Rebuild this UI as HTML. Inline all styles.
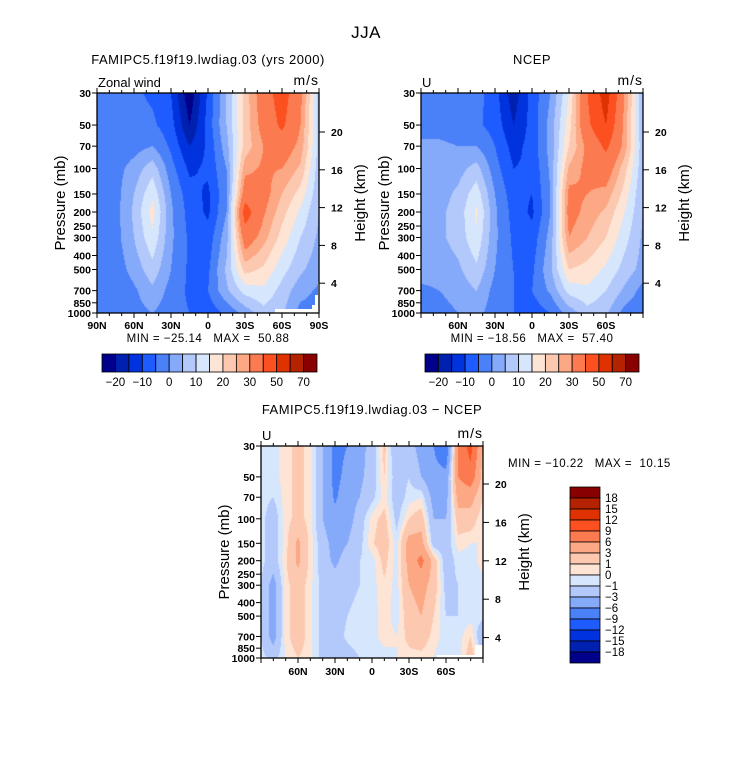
<!DOCTYPE html>
<html><head><meta charset="utf-8">
<style>
body{margin:0;background:#fff;width:733px;height:760px;overflow:hidden;position:relative;font-family:"Liberation Sans",sans-serif;}
canvas{position:absolute;}
svg{position:absolute;left:0;top:0;}
text{font-family:"Liberation Sans",sans-serif;fill:#000;white-space:pre;}
</style></head>
<body>
<canvas id="cL"></canvas>
<canvas id="cR"></canvas>
<canvas id="cD"></canvas>
<svg id="ov" width="733" height="760"></svg>
<script>
// ---- data ----
const pressures=[30,50,70,100,150,200,300,500,700,1000];
const latsTop=[90,75,60,45,30,15,0,-15,-30,-45,-60,-75,-90];
const latsDiff=[90,80,70,60,50,40,30,20,10,0,-10,-20,-30,-40,-50,-60,-70,-80,-90];
const topLevels=[-20,-15,-10,-5,0,5,10,15,20,25,30,40,50,60,70];
const diffLevels=[-18,-15,-12,-9,-6,-3,-1,0,1,3,6,9,12,15,18];
const topLabels=["-20","-10","0","10","20","30","50","70"];
const diffLabels=["-18","-15","-12","-9","-6","-3","-1","0","1","3","6","9","12","15","18"];
const pressureTicks=[30,50,70,100,150,200,250,300,400,500,700,850,1000];
const heightTicks=[4,8,12,16,20];
const latTicksFull=[[90,"90N"],[60,"60N"],[30,"30N"],[0,"0"],[-30,"30S"],[-60,"60S"],[-90,"90S"]];
const latTicksShort=[[60,"60N"],[30,"30N"],[0,"0"],[-30,"30S"],[-60,"60S"]];
const colors=["#00008a","#0020b0","#0033dd","#1f5cff","#4a80f8","#86aafa","#b3c8fb","#d6e6fc","#fde4d4","#fcc8b0","#fca884","#fc7a50","#fc5020","#e03200","#b42200","#880000"];
const modelU=[
[-2,-3,-4,-6,-10,-24,-9,5,22,35,45,32,8],
[-2,-3,-3,-4,-8,-20,-8,5,22,33,42,30,8],
[-2,-3,-2,0,-6,-15,-9,3,22,30,35,28,8],
[-3,-2,2,8,-3,-11,-9,0,28,31,30,24,7],
[-4,-2,5,14,0,-8,-11,-1,35,33,25,18,6],
[-4,-2,6,17,1,-7,-11,0,45,31,22,14,5],
[-4,-2,5,14,1,-6,-8,3,35,27,18,10,4],
[-2,-3,2,8,0,-6,-6,6,22,19,12,6,2],
[-3,-4,-1,4,-2,-6,-5,4,12,14,8,2,-1],
[-3,-4,-2,0,-3,-5,-8,-4,2,8,6,-2,-2]];
const ncepU=[
[-3,-3,-3,-3,-8,-18,-8,0,15,40,55,30,5],
[-2,-2,-3,-4,-7,-15,-8,2,18,38,50,28,5],
[1,1,0,0,-5,-12,-8,2,20,32,42,28,6],
[2,2,3,7,-3,-10,-9,1,26,32,35,22,6],
[3,3,6,13,0,-8,-10,0,32,30,28,18,5],
[3,4,7,16,1,-7,-11,0,33,28,24,15,5],
[3,4,7,14,1,-6,-8,2,30,25,20,12,4],
[2,2,4,9,0,-5,-6,4,20,18,14,8,3],
[-1,0,2,5,-2,-5,-5,1,12,14,10,4,-2],
[-3,-2,0,2,-3,-5,-8,-5,2,8,6,-2,-4]];
const diffU=[
[-0.5,-0.5,0.5,1.5,0.5,-3,-7,-6,-4,-2,1.5,-3,-2,-4,-6,-9,7,10,3],
[-0.5,-0.5,0.5,1.5,0.5,-3,-7,-5,-3.5,-2,1,-2,-1,-3,-5,-5,6,8,2],
[-0.5,-1,0.5,1.5,0.5,-3,-6.5,-4,-3,-1.5,0.5,-2,-0.5,0,-4,-4,4,4,1],
[-0.5,-2,0.5,1.5,0.5,-3,-5,-4,-2,0.5,1.5,-1.5,1,2,-3,-3,2,2,0],
[-0.5,-2,0.5,3.5,0.5,-2,-4,-3,-1.5,0.8,2,-0.5,4,4,-2,-2,0.5,0,0],
[-0.5,-2,0.8,3.5,0.5,-2,-3.5,-2,-1,-0.5,1.5,-0.5,4,7,2,-2,-0.5,-0.5,0.5],
[-1,-4,0.5,2,0.3,-1.5,-2,-1.5,-1,-0.5,0.8,-0.5,3,4,2,-1.5,-1,-0.5,-0.5],
[-1,-4,0.5,2,0.3,-1.5,-1.5,-1,-0.5,-0.5,0.5,-0.5,2,3,1,-1,-1,-0.5,-0.5],
[-1,-4,0.5,2,0.3,-1.5,-1.5,-0.8,-0.5,-0.5,0.5,0,1.5,2,0.5,-0.5,-0.5,1,-3],
[-0.5,-1.5,0,1,0.3,-1.5,-2,-1.5,-1,-0.5,-0.5,0,0.5,0.5,0,-1,-0.5,2,-1]];

const NS="http://www.w3.org/2000/svg";
const ov=document.getElementById('ov');
function mk(tag,attrs,txt){const e=document.createElementNS(NS,tag);for(const k in attrs)e.setAttribute(k,attrs[k]);if(txt!==undefined)e.textContent=txt;ov.appendChild(e);return e;}
function hex(c){return [parseInt(c.substr(1,2),16),parseInt(c.substr(3,2),16),parseInt(c.substr(5,2),16)];}
const rgb=colors.map(hex);
function levelIndex(v,levels){let i=0;while(i<levels.length&&v>=levels[i])i++;return i;}

function makePanel(P){
  P.yP=p=>P.y0+(Math.log(p)-Math.log(30))/Math.log(1000/30)*(P.y1-P.y0);
  P.xL=l=>P.x0+(90-l)/180*(P.x1-P.x0);
  return P;
}
function drawField(id,P,lats,grid,levels){
  const cv=document.getElementById(id);
  const W=P.x1-P.x0,H=P.y1-P.y0;
  cv.width=W;cv.height=H;cv.style.left=P.x0+'px';cv.style.top=P.y0+'px';
  const ctx=cv.getContext('2d');const img=ctx.createImageData(W,H);
  const lp=pressures.map(p=>Math.log(p));
  for(let j=0;j<H;j++){
    const lnp=Math.log(30)+(j+0.5)/H*Math.log(1000/30);
    let r=0;while(r<lp.length-2&&lnp>lp[r+1])r++;
    let ty=(lnp-lp[r])/(lp[r+1]-lp[r]);ty=Math.max(0,Math.min(1,ty));
    for(let i=0;i<W;i++){
      const lat=90-(i+0.5)/W*180;
      let c=0;while(c<lats.length-2&&lat<lats[c+1])c++;
      let tx=(lats[c]-lat)/(lats[c]-lats[c+1]);tx=Math.max(0,Math.min(1,tx));
      const v=(1-ty)*((1-tx)*grid[r][c]+tx*grid[r][c+1])+ty*((1-tx)*grid[r+1][c]+tx*grid[r+1][c+1]);
      const k=rgb[levelIndex(v,levels)];const o=(j*W+i)*4;
      img.data[o]=k[0];img.data[o+1]=k[1];img.data[o+2]=k[2];img.data[o+3]=255;
    }
  }
  ctx.putImageData(img,0,0);
}
function drawAxes(P,latTicks,leftLbl,rightLbl,name){
  if(P.mask){const m=mk('polygon',{points:P.mask,fill:'#fff'});}
  const f=mk('rect',{x:P.x0,y:P.y0,width:P.x1-P.x0,height:P.y1-P.y0,fill:'none',stroke:'#000','stroke-width':1.3});
  
  for(const p of pressureTicks){
    const y=P.yP(p);
    mk('line',{x1:P.x0-5,x2:P.x0,y1:y,y2:y,stroke:'#000'});
    const t=mk('text',{x:P.x0-6,y:y+4,'text-anchor':'end','font-size':10.5,'font-weight':'bold'},p);
    
  }
  for(let l=90;l>=-90;l-=10){const x=P.xL(l);mk('line',{x1:x,x2:x,y1:P.y0,y2:P.y0-(l%30===0?5:3),stroke:'#000'});mk('line',{x1:x,x2:x,y1:P.y1,y2:P.y1+(l%30===0?5:3),stroke:'#000'});}
  for(const [l,s] of latTicks){
    const t=mk('text',{x:P.xL(l),y:P.y1+P.labOff,'text-anchor':'middle','font-size':10.5,'font-weight':'bold'},s);
    
  }
  for(const h of heightTicks){
    const y=P.hY(h);
    mk('line',{x1:P.x1,x2:P.x1+6,y1:y,y2:y,stroke:'#000'});
    const t=mk('text',{x:P.x1+12,y:y+4,'font-size':10.5,'font-weight':'bold'},h);
    
  }
  const cy=(P.y0+P.y1)/2;
  const a=mk('text',{x:P.x0-32,y:cy,'text-anchor':'middle','font-size':15,transform:`rotate(-90 ${P.x0-32} ${cy})`},'Pressure (mb)');
  
  const b=mk('text',{x:P.x1+46,y:cy,'text-anchor':'middle','font-size':15,transform:`rotate(-90 ${P.x1+46} ${cy})`},'Height (km)');
  
  const c=mk('text',{x:P.x0+1,y:P.y0-6,'font-size':13},leftLbl);
  
  const d=mk('text',{x:P.x1,y:P.y0-8,'text-anchor':'end','font-size':14,'letter-spacing':1},rightLbl);
  
}
function hColorbar(x0,x1,y0,y1,labels,name){
  const w=(x1-x0)/16;
  colors.forEach((c,i)=>{const r=mk('rect',{x:x0+i*w,y:y0,width:w,height:y1-y0,fill:c,stroke:'#000','stroke-width':0.8});
    });
  labels.forEach((s,k)=>{const t=mk('text',{x:x0+(2*k+1)*w,y:y1+14,'text-anchor':'middle','font-size':11.5},s.replace('-','\u2212'));
    });
}

const L=makePanel({x0:97,x1:319,y0:93,y1:313,labOff:16,mask:'275,309 312,309 312,305 315,305 315,295 318,295 318,282 319,282 319,313 275,313'});
const R=makePanel({x0:421,x1:643,y0:93,y1:313,labOff:16});
const D=makePanel({x0:261,x1:483,y0:446,y1:658,labOff:17,mask:'437,655 475,655 475,645 483,645 483,658 437,658'});
[L,R].forEach(P=>{P.hY=h=>132+(20-h)*9.45;});
D.hY=h=>484+(20-h)*9.6;

drawField('cL',L,latsTop,modelU,topLevels);
drawField('cR',R,latsTop,ncepU,topLevels);
drawField('cD',D,latsDiff,diffU,diffLevels);
drawAxes(L,latTicksFull,'Zonal wind','m/s','model-panel');
drawAxes(R,latTicksShort,'U','m/s','ncep-panel');
drawAxes(D,latTicksShort,'U','m/s','diff-panel');

hColorbar(102,317,354,372,topLabels,'model-colorbar');
hColorbar(425,639,354,372,topLabels,'ncep-colorbar');
(function(){const x0=570,x1=600,y0=487,y1=663,h=(y1-y0)/16;
  colors.slice().reverse().forEach((c,i)=>{const r=mk('rect',{x:x0,y:y0+i*h,width:x1-x0,height:h,fill:c,stroke:'#000','stroke-width':0.8});
    });
  diffLabels.slice().reverse().forEach((s,k)=>{const t=mk('text',{x:x1+5,y:y0+(k+1)*h+4,'font-size':11.5},s.replace('-','\u2212'));
    });
})();

function txt(x,y,s,size,anchor,name){const t=mk('text',{x:x,y:y,'font-size':size,'text-anchor':anchor,'letter-spacing':0.5},s);
  }
txt(366,38,'JJA',17,'middle','main-title');
txt(208,64,'FAMIPC5.f19f19.lwdiag.03 (yrs 2000)',13,'middle','model-panel-title');
txt(532,64,'NCEP',13,'middle','ncep-panel-title');
txt(372,414,'FAMIPC5.f19f19.lwdiag.03 \u2212 NCEP',13,'middle','diff-panel-title');
txt(208,342,'MIN = \u221225.14   MAX =  50.88',11.5,'middle','model-min-max');
txt(532,342,'MIN = \u221218.56   MAX =  57.40',11.5,'middle','ncep-min-max');
txt(508,467,'MIN = \u221210.22   MAX =  10.15',11.5,'start','diff-min-max');
</script>
</body></html>
